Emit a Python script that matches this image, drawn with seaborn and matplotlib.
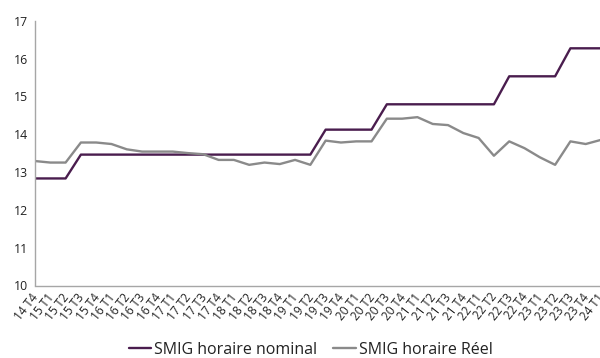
import matplotlib
matplotlib.use("Agg")
import matplotlib.pyplot as plt
import seaborn as sns
import pandas as pd
from matplotlib.ticker import FixedLocator

# Quarter labels (year + quarter)
quarters = [
    "14 T4",
    "15 T1", "15 T2", "15 T3", "15 T4",
    "16 T1", "16 T2", "16 T3", "16 T4",
    "17 T1", "17 T2", "17 T3", "17 T4",
    "18 T1", "18 T2", "18 T3", "18 T4",
    "19 T1", "19 T2", "19 T3", "19 T4",
    "20 T1", "20 T2", "20 T3", "20 T4",
    "21 T1", "21 T2", "21 T3", "21 T4",
    "22 T1", "22 T2", "22 T3", "22 T4",
    "23 T1", "23 T2", "23 T3", "23 T4",
    "24 T1",
]

# Hourly minimum wage, nominal
smig_nominal = [
    12.83,
    12.83, 12.83, 13.46, 13.46,
    13.46, 13.46, 13.46, 13.46,
    13.46, 13.46, 13.46, 13.46,
    13.46, 13.46, 13.46, 13.46,
    13.46, 13.46, 14.12, 14.12,
    14.12, 14.12, 14.79, 14.79,
    14.79, 14.79, 14.79, 14.79,
    14.79, 14.79, 15.53, 15.53,
    15.53, 15.53, 16.27, 16.27,
    16.27,
]

# Hourly minimum wage, real terms
smig_reel = [
    13.29,
    13.25, 13.25, 13.78, 13.78,
    13.74, 13.60, 13.54, 13.54,
    13.54, 13.50, 13.47, 13.32,
    13.32, 13.19, 13.25, 13.21,
    13.32, 13.19, 13.83, 13.78,
    13.81, 13.81, 14.41, 14.41,
    14.45, 14.27, 14.24, 14.03,
    13.90, 13.43, 13.81, 13.63,
    13.39, 13.19, 13.81, 13.74,
    13.85,
]

series_names = ["SMIG horaire nominal", "SMIG horaire Réel"]
colors = {"SMIG horaire nominal": "#4a1d4e", "SMIG horaire Réel": "#8a8a8a"}

idx = list(range(len(quarters)))
df = pd.DataFrame({
    "pos": idx * 2,
    "valeur": smig_nominal + smig_reel,
    "serie": [series_names[0]] * len(idx) + [series_names[1]] * len(idx),
})

sns.set_theme(style="white")
plt.rcParams["font.family"] = ["Open Sans", "DejaVu Sans"]

W, H = 600, 358
fig = plt.figure(figsize=(W / 100, H / 100), dpi=100)
left_px, right_px, top_px, bottom_px = 35, 601, 20.7, 285.5
ax = fig.add_axes([left_px / W, 1 - bottom_px / H,
                   (right_px - left_px) / W, (bottom_px - top_px) / H])

sns.lineplot(data=df, x="pos", y="valeur", hue="serie", palette=colors,
             hue_order=series_names, linewidth=1.7, ax=ax, legend=True)

ax.set_xlim(0, len(quarters) - 1)
ax.set_ylim(10, 17)
ax.set_yticks(range(10, 18))
ax.set_xlabel("")
ax.set_ylabel("")

spine_col = "#a6a6a6"
for s in ["top", "right"]:
    ax.spines[s].set_visible(False)
for s in ["left", "bottom"]:
    ax.spines[s].set_color(spine_col)
    ax.spines[s].set_linewidth(1.0)

ax.set_xticks(idx)
ax.set_xticklabels(quarters, rotation=52, ha="right", va="center_baseline",
                   rotation_mode="anchor", fontsize=8.6, color="#222222")
ax.xaxis.set_minor_locator(FixedLocator(list(range(0, len(quarters), 3))))
ax.tick_params(axis="x", which="major", length=0, pad=6)
ax.tick_params(axis="x", which="minor", length=3, color=spine_col, width=1)
ax.tick_params(axis="y", which="major", length=3, color=spine_col, width=1,
               labelsize=8.8, labelcolor="#222222", pad=2)

handles, labels = ax.get_legend_handles_labels()
ax.legend(handles, labels, loc="center", bbox_to_anchor=(0.518, 1 - 350 / H),
          bbox_transform=fig.transFigure, ncol=2, frameon=False,
          fontsize=11.5, handlelength=1.4, handletextpad=0.2, columnspacing=1.0,
          labelcolor="#222222")

fig.savefig("out.png", dpi=100)
